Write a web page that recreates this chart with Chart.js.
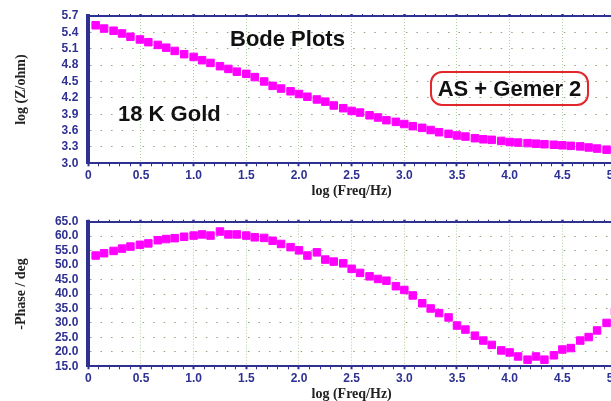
<!DOCTYPE html>
<html>
<head>
<meta charset="utf-8">
<script src="https://cdn.jsdelivr.net/npm/chart.js@4"></script>
<style>
  html, body { margin: 0; padding: 0; background: #fff; }
  body { width: 611px; height: 401px; overflow: hidden; position: relative; font-family: "Liberation Sans", Arial, sans-serif; }
  .panel { position: absolute; left: 0; }
  .panel canvas { display: block; }
  .note { position: absolute; font-weight: bold; font-size: 22px; line-height: 22px; color: #111; white-space: nowrap; }
  .box { position: absolute; left: 430px; top: 71px; width: 159px; height: 35px; box-sizing: border-box;
         border: 2px solid #e3262b; border-radius: 12px; display: flex; align-items: center; justify-content: center;
         font-weight: bold; font-size: 22px; line-height: 22px; color: #111; white-space: nowrap; }
</style>
</head>
<body>
<div class="panel" style="top:0"><canvas id="magChart" width="640" height="200"></canvas></div>
<div class="panel" style="top:200px"><canvas id="phaseChart" width="640" height="203"></canvas></div>
<div class="note" style="left:230px; top:28px">Bode Plots</div>
<div class="note" style="left:118px; top:103px">18 K Gold</div>
<div class="box">AS + Gemer 2</div>

<script>
// log(freq) of each measured point
const logFreq = [0.07, 0.15, 0.24, 0.32, 0.40, 0.49, 0.57, 0.66, 0.74, 0.82, 0.91, 1.00,
                 1.08, 1.16, 1.25, 1.33, 1.41, 1.50, 1.58, 1.67, 1.75, 1.83, 1.92, 2.00,
                 2.08, 2.17, 2.25, 2.33, 2.42, 2.50, 2.58, 2.67, 2.75, 2.83, 2.92, 3.00,
                 3.08, 3.17, 3.25, 3.33, 3.42, 3.50, 3.58, 3.67, 3.75, 3.83, 3.92, 4.00,
                 4.08, 4.17, 4.25, 4.33, 4.42, 4.50, 4.58, 4.67, 4.75, 4.83, 4.92, 5.00];

const logZ = [5.53, 5.47, 5.43, 5.38, 5.32, 5.27, 5.22, 5.17, 5.12, 5.06, 5.00, 4.95,
              4.89, 4.84, 4.78, 4.73, 4.68, 4.64, 4.58, 4.50, 4.42, 4.37, 4.32, 4.27,
              4.22, 4.17, 4.13, 4.06, 4.01, 3.96, 3.93, 3.88, 3.84, 3.79, 3.76, 3.72,
              3.68, 3.65, 3.61, 3.57, 3.54, 3.51, 3.49, 3.46, 3.44, 3.43, 3.41, 3.39,
              3.38, 3.37, 3.36, 3.35, 3.34, 3.33, 3.32, 3.31, 3.29, 3.27, 3.25, 3.23];

const phase = [53.3, 54.1, 54.9, 55.7, 56.4, 57.0, 57.5, 58.6, 59.0, 59.3, 59.8, 60.2,
               60.6, 60.2, 61.6, 60.6, 60.6, 60.2, 59.6, 59.4, 58.4, 57.3, 56.2, 55.1,
               53.3, 54.4, 51.9, 51.2, 50.6, 48.7, 47.3, 46.1, 45.2, 44.6, 42.7, 41.4,
               39.5, 36.8, 35.0, 33.4, 31.9, 29.1, 27.7, 25.6, 23.9, 22.4, 20.5, 19.8,
               18.4, 17.3, 18.4, 17.3, 18.8, 20.8, 21.3, 23.9, 25.1, 27.4, 30.0, 34.0];

// axis ranges: [min, max, step]
const freqRange = [0, 5, 0.1];
const zRange = [3.0, 5.7, 0.3];
const phaseRange = [15, 65, 5];

const NAVY = "#2e3192";
const DOTS = "rgba(120,130,80,0.75)";
const VGRID = "rgba(150,190,130,0.75)";
const tickFont = { family: "'Liberation Sans', Arial, sans-serif", size: 12, weight: "bold" };
const titleFont = { family: "'Liberation Serif', 'Times New Roman', serif", size: 14, weight: "bold" };

function isMajor(v) {
    return Math.abs(v * 2 - Math.round(v * 2)) < 1e-6;
}

function noPad(s) {
    s.paddingLeft = 0; s.paddingRight = 0; s.paddingTop = 0; s.paddingBottom = 0;
}

function makeChart(id, ys, range, yTitle, padTop) {
    return new Chart(document.getElementById(id), {
        type: "scatter",
        data: {
            datasets: [{
                data: logFreq.map((x, i) => ({ x: x, y: ys[i] })),
                pointStyle: "rect",
                pointRadius: 5.3,
                backgroundColor: "#ff00ff",
                borderColor: "#ff00ff",
                borderWidth: 1
            }]
        },
        options: {
            responsive: false,
            animation: false,
            devicePixelRatio: 1,
            layout: { padding: { top: padTop, right: 25, left: 0, bottom: 0 } },
            plugins: { legend: { display: false }, tooltip: { enabled: false } },
            scales: {
                x: {
                    type: "linear", position: "bottom",
                    min: freqRange[0], max: freqRange[1],
                    ticks: {
                        stepSize: freqRange[2], autoSkip: false, maxRotation: 0, padding: 2,
                        color: NAVY, font: tickFont,
                        callback: v => isMajor(v) ? (v === 0 ? "0" : v.toFixed(1)) : ""
                    },
                    grid: {
                        color: c => (c.tick && isMajor(c.tick.value)) ? VGRID : "rgba(0,0,0,0)",
                        lineWidth: 1, drawTicks: true, tickLength: 3, tickColor: NAVY,
                        tickWidth: c => (c.tick && isMajor(c.tick.value)) ? 2 : 1
                    },
                    border: { color: NAVY, width: 2, dash: [1, 2] },
                    title: { display: true, text: "log (Freq/Hz)", color: "#222", font: titleFont, padding: { top: 0, bottom: 0 } },
                    afterFit: s => { noPad(s); s.height = 36.7; }
                },
                x2: {
                    type: "linear", position: "top",
                    min: freqRange[0], max: freqRange[1],
                    ticks: { display: false, stepSize: freqRange[2], autoSkip: false },
                    grid: {
                        drawOnChartArea: false, drawTicks: true, tickLength: 2, tickColor: NAVY,
                        tickWidth: c => (c.tick && isMajor(c.tick.value)) ? 2.5 : 1
                    },
                    border: { color: NAVY, width: 2 },
                    afterFit: s => { noPad(s); s.height = 0; }
                },
                y: {
                    min: range[0], max: range[1],
                    ticks: { stepSize: range[2], autoSkip: false, padding: 10, color: NAVY, font: tickFont, callback: v => v.toFixed(1) },
                    grid: { color: DOTS, lineWidth: 1, drawTicks: false },
                    border: { color: NAVY, width: 4, dash: [1.5, 9.03] },
                    title: { display: true, text: yTitle, color: "#222", font: titleFont, padding: { top: 12.6, bottom: 0 } },
                    afterFit: s => { noPad(s); s.width = 88.3; }
                }
            }
        }
    });
}

makeChart("magChart", logZ, zRange, "log (Z/ohm)", 16);
makeChart("phaseChart", phase, phaseRange, "-Phase / deg", 21.7);
</script>
</body>
</html>
